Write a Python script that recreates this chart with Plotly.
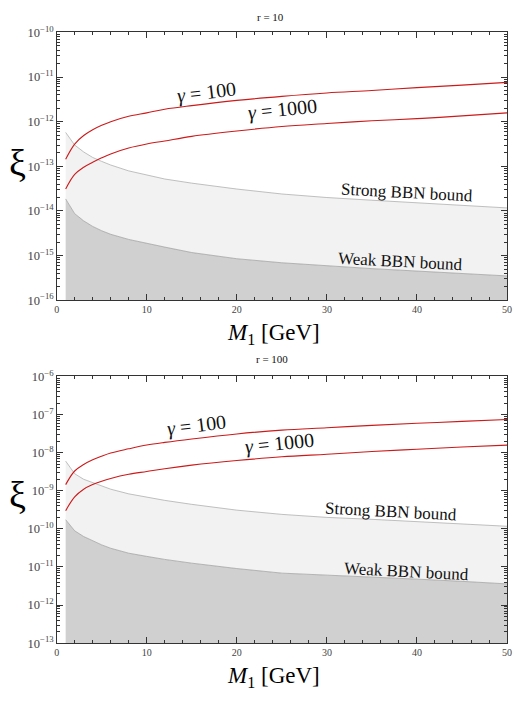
import plotly.graph_objects as go

W, H = 514, 702

# ---------------- data ----------------
M1 = [1, 2, 3, 4, 5, 6, 8, 10, 12, 15, 20, 25, 30, 35, 40, 45, 50]

# r = 10
r10_gamma100 = [1.45e-13, 3.16e-13, 4.9e-13, 6.6e-13, 8.3e-13, 1.0e-12, 1.32e-12, 1.58e-12, 1.9e-12,
                2.29e-12, 3.0e-12, 3.7e-12, 4.4e-12, 5.0e-12, 5.8e-12, 6.6e-12, 7.6e-12]
r10_gamma1000 = [3.1e-14, 6.6e-14, 9.5e-14, 1.23e-13, 1.55e-13, 1.9e-13, 2.57e-13, 3.16e-13, 3.7e-13,
                 4.7e-13, 6.2e-13, 7.8e-13, 9.1e-13, 1.05e-12, 1.17e-12, 1.35e-12, 1.58e-12]
r10_strong = [5.75e-13, 3.0e-13, 2.1e-13, 1.58e-13, 1.29e-13, 1.07e-13, 7.9e-14, 6.3e-14, 5.2e-14,
              4.2e-14, 3.1e-14, 2.4e-14, 2.0e-14, 1.74e-14, 1.51e-14, 1.35e-14, 1.17e-14]
r10_weak = [1.86e-14, 8.7e-15, 6.0e-15, 4.5e-15, 3.6e-15, 3.0e-15, 2.3e-15, 1.86e-15, 1.55e-15,
            1.17e-15, 8.5e-16, 6.9e-16, 5.9e-16, 5.1e-16, 4.5e-16, 4.0e-16, 3.5e-16]

# r = 100
r100_gamma100 = [1.45e-9, 3.3e-9, 4.9e-9, 6.5e-9, 8.1e-9, 9.8e-9, 1.26e-8, 1.58e-8, 1.86e-8,
                 2.29e-8, 3.1e-8, 3.9e-8, 4.5e-8, 5.2e-8, 5.9e-8, 6.6e-8, 7.4e-8]
r100_gamma1000 = [3.0e-10, 6.9e-10, 1.1e-9, 1.45e-9, 1.78e-9, 2.1e-9, 2.7e-9, 3.2e-9, 3.8e-9,
                  4.7e-9, 6.2e-9, 7.8e-9, 9.1e-9, 1.07e-8, 1.23e-8, 1.41e-8, 1.58e-8]
r100_strong = [6.0e-9, 2.8e-9, 2.0e-9, 1.62e-9, 1.32e-9, 1.1e-9, 8.3e-10, 6.8e-10, 5.6e-10,
               4.4e-10, 3.1e-10, 2.4e-10, 2.0e-10, 1.78e-10, 1.55e-10, 1.35e-10, 1.17e-10]
r100_weak = [1.74e-10, 8.9e-11, 6.3e-11, 4.8e-11, 3.8e-11, 3.1e-11, 2.3e-11, 1.9e-11, 1.58e-11,
             1.26e-11, 9.1e-12, 6.9e-12, 6.2e-12, 5.4e-12, 4.8e-12, 4.2e-12, 3.6e-12]

x_range = [0, 50]
top_yrange_exp = [-16, -10]
bot_yrange_exp = [-13, -6]

# ---------------- style ----------------
SERIF = "Liberation Serif"
RED = "#cc1a1a"
LIGHT = "#f2f2f2"
DARK = "#d0d0d0"

def px(x):
    return x / W

def py(y):
    return 1 - y / H

fig = go.Figure()

def add_panel(xa, ya, g100, g1000, strong, weak, ymin):
    base = [ymin] * len(M1)
    fig.add_trace(go.Scatter(x=M1, y=base, mode="lines", line=dict(width=0),
                             xaxis=xa, yaxis=ya, hoverinfo="skip", showlegend=False))
    fig.add_trace(go.Scatter(x=M1, y=weak, mode="lines", fill="tonexty", fillcolor=DARK,
                             line=dict(color="#9a9a9a", width=0.7),
                             xaxis=xa, yaxis=ya, hoverinfo="skip", showlegend=False))
    fig.add_trace(go.Scatter(x=M1, y=strong, mode="lines", fill="tonexty", fillcolor=LIGHT,
                             line=dict(color="#b0b0b0", width=0.8),
                             xaxis=xa, yaxis=ya, hoverinfo="skip", showlegend=False))
    for ys in (g100, g1000):
        fig.add_trace(go.Scatter(x=M1, y=ys, mode="lines", line=dict(color=RED, width=1.1, shape="spline"),
                                 xaxis=xa, yaxis=ya, hoverinfo="skip", showlegend=False))

add_panel("x", "y", r10_gamma100, r10_gamma1000, r10_strong, r10_weak, 10 ** top_yrange_exp[0])
add_panel("x2", "y2", r100_gamma100, r100_gamma1000, r100_strong, r100_weak, 10 ** bot_yrange_exp[0])

xdom = [px(54.5), px(512)]
axis_common = dict(showline=True, linecolor="#333333", linewidth=1, mirror="allticks",
                   ticks="inside", tickcolor="#333333", showgrid=False, zeroline=False,
                   tickfont=dict(family=SERIF, size=10, color="#444444"))
xa_common = dict(axis_common, range=x_range, dtick=10, tick0=0, ticklen=6,
                 ticklabeloverflow="allow",
                 minor=dict(ticks="inside", dtick=2, ticklen=3, tickcolor="#333333"))
ya_common = dict(axis_common, type="log", dtick=1, ticklen=6, exponentformat="power",
                 minor=dict(ticks="inside", ticklen=3, tickcolor="#333333"))

fig.update_layout(
    width=W, height=H, margin=dict(l=0, r=0, t=0, b=0),
    paper_bgcolor="white", plot_bgcolor="white",
    xaxis=dict(xa_common, domain=xdom, anchor="y"),
    yaxis=dict(ya_common, domain=[py(298), py(24)], range=top_yrange_exp, anchor="x"),
    xaxis2=dict(xa_common, domain=xdom, anchor="y2"),
    yaxis2=dict(ya_common, domain=[py(649), py(376)], range=bot_yrange_exp, anchor="x2"),
)

def ann(text, x, y, size, angle=0, color="#111111"):
    fig.add_annotation(text=text, x=px(x), y=py(y), xref="paper", yref="paper",
                       showarrow=False, textangle=angle, xanchor="center", yanchor="middle",
                       font=dict(family=SERIF, size=size, color=color))

# panel titles
ann("r = 10", 272, 8, 11)
ann("r = 100", 273, 358, 11)

# y labels (upright, as in the reference)
ann("ξ", 15, 158, 38, color="black")
ann("ξ", 15, 497, 38, color="black")

# x labels
ann("<i>M</i><sub>1</sub> [GeV]", 275, 333, 23, color="black")
ann("<i>M</i><sub>1</sub> [GeV]", 275, 684, 23, color="black")

# curve labels, top
ann("<i>γ</i> = 100", 207, 85, 20, -7)
ann("<i>γ</i> = 1000", 284, 103, 20, -6)
ann("Strong BBN bound", 410, 188, 17, 3)
ann("Weak BBN bound", 404, 258, 17, 3)

# curve labels, bottom
ann("<i>γ</i> = 100", 197, 426, 20, -7)
ann("<i>γ</i> = 1000", 281, 445, 20, -6)
ann("Strong BBN bound", 394, 514, 17, 3)
ann("Weak BBN bound", 410, 576, 17, 3)

fig.write_html("out.html")
